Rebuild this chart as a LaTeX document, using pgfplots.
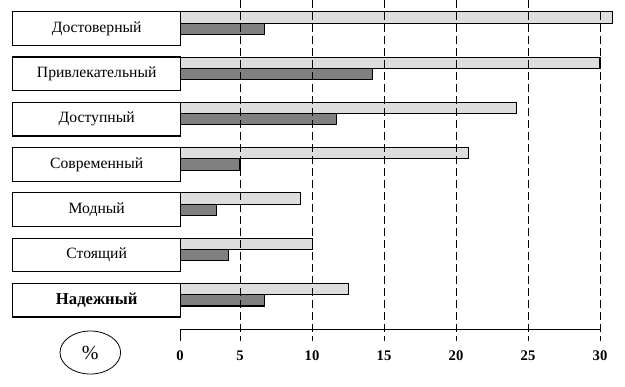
\documentclass[border=0pt]{standalone}
\usepackage{fontspec}
\setmainfont{Liberation Serif}
\usepackage{pgfplots}
\pgfplotsset{compat=1.18}
\definecolor{lightbar}{HTML}{DDDDDD}
\definecolor{darkbar}{HTML}{808080}
\begin{document}
\begin{tikzpicture}
\path[use as bounding box] (0,0) rectangle (468.75pt,-289.5pt);
\begin{axis}[
  at={(135pt,0pt)}, anchor=north west,
  scale only axis, width=333.75pt, height=255.75pt,
  xmin=0.8333, xmax=31.736, ymin=0, ymax=341, y dir=reverse,
  axis line style={draw=none},
  major tick length=0pt,
  ytick=\empty,
  xtick={5,10,15,20,25}, xticklabels={5,10,15,20,25},
  extra x ticks={0.8333,30}, extra x tick labels={0,30},
  extra x tick style={grid=none},
  xmajorgrids,
  grid style={black, line width=0.75pt, dash pattern=on 6pt off 3pt},
  xticklabel style={anchor=base, yshift=-14.25pt, font=\bfseries\fontsize{11}{13}\selectfont},
  /pgf/number format/assume math mode=true,
  axis on top,
]
\addplot[xbar, bar width=11.3, bar shift=0pt, fill=lightbar, draw=black, line width=0.8pt]
  coordinates {(30.85,17.45) (30.0,62.72) (24.19,107.99) (20.85,153.26) (9.17,198.53) (10.02,243.8) (12.52,289.07)};
\addplot[xbar, bar width=11.3, bar shift=0pt, fill=darkbar, draw=black, line width=0.8pt]
  coordinates {(6.69,28.75) (14.19,74.02) (11.69,119.29) (5.0,164.56) (3.38,209.83) (4.19,255.1) (6.69,300.37)};
\draw[black, line width=0.75pt] (axis cs:0.8333,329.3) -- (axis cs:30,329.3);
\draw[black, line width=0.75pt] (axis cs:0.8333,329.3) -- (axis cs:0.8333,341);
\draw[black, line width=0.75pt, dash pattern=on 6pt off 3pt] (axis cs:30,12) -- (axis cs:30,341);
\end{axis}
\begin{scope}[x=0.75pt, y=-0.75pt]
\foreach \t/\lab in {11.8/Достоверный, 57.07/Привлекательный, 102.34/Доступный, 147.61/Современный, 192.88/Модный, 238.15/Стоящий}{
  \draw[black, line width=0.9pt, fill=white] (12.7,\t) rectangle (180.7,\t+33.6);
  \node[font=\fontsize{11.75}{14}\selectfont] at (96.7,\t+16.8) {\lab};
}
\draw[black, line width=0.9pt, fill=white] (12.7,283.42) rectangle (180.7,317.02);
\node[font=\bfseries\fontsize{12.5}{15}\selectfont] at (96.7,300.22) {Надежный};
\draw[black, line width=0.6pt] (90.3,352.5) ellipse [x radius=30.3, y radius=21.5];
\node[font=\fontsize{15}{18}\selectfont] at (90.3,352.5) {\%};
\end{scope}
\end{tikzpicture}
\end{document}
